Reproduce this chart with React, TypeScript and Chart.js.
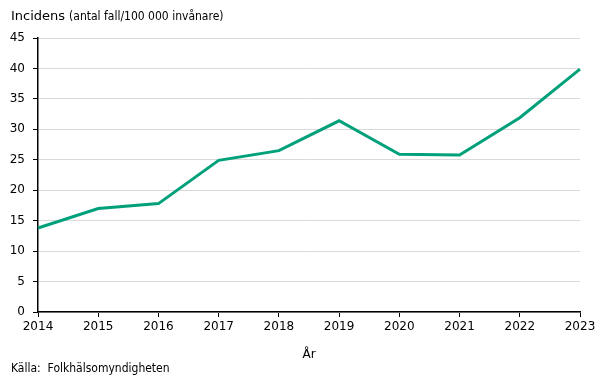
import React, { useEffect, useRef } from "react";
import { Chart, registerables } from "chart.js";

Chart.register(...registerables);

const years = ["2014", "2015", "2016", "2017", "2018", "2019", "2020", "2021", "2022", "2023"];
const incidence = [13.8, 17.0, 17.8, 24.9, 26.5, 31.4, 25.9, 25.8, 31.9, 39.9];
const yTicks = [0, 5, 10, 15, 20, 25, 30, 35, 40, 45];
const titleMain = "Incidens";
const titleSub = "(antal fall/100 000 invånare)";
const xTitle = "År";
const sourceText = "Källa:  Folkhälsomyndigheten";

const FONT = "'DejaVu Sans', Verdana, sans-serif";
const FONT_C = "'DejaVu Sans Condensed', 'DejaVu Sans', sans-serif";

const textPlugin = {
  id: "textPlugin",
  afterDraw(chart: any) {
    const ctx = chart.ctx;
    ctx.save();
    ctx.fillStyle = "#000";
    ctx.textBaseline = "alphabetic";
    ctx.textAlign = "left";
    ctx.font = `13px ${FONT}`;
    ctx.fillText(titleMain, 11, 20);
    const w = ctx.measureText(titleMain).width;
    ctx.font = `12px ${FONT_C}`;
    ctx.fillText(titleSub, 11 + w + 4, 20);
    ctx.font = `12px ${FONT_C}`;
    ctx.fillText(sourceText, 11, 372);
    ctx.restore();
  },
};

export default function App() {
  const ref = useRef<HTMLCanvasElement | null>(null);
  useEffect(() => {
    if (!ref.current) return;
    const chart = new Chart(ref.current, {
      type: "line",
      data: {
        labels: years,
        datasets: [
          {
            data: incidence,
            borderColor: "rgb(0,161,122)",
            borderWidth: 3,
            pointRadius: 0,
            tension: 0,
            fill: false,
          },
        ],
      },
      options: {
        animation: false,
        responsive: false,
        devicePixelRatio: 1,
        layout: { padding: { left: 0, right: 25, top: 38, bottom: 0 } },
        plugins: { legend: { display: false }, tooltip: { enabled: false }, title: { display: false } },
        scales: {
          x: {
            type: "category",
            offset: false,
            grid: { drawOnChartArea: false, drawTicks: true, tickLength: 5, color: "#000", tickColor: "#000" },
            border: { color: "#000", width: 1.5 },
            ticks: { color: "#000", font: { family: FONT, size: 12 }, padding: 3, maxRotation: 0, autoSkip: false },
            title: { display: true, text: xTitle, color: "#000", font: { family: FONT, size: 12 }, padding: { top: 0, bottom: 16 } },
            afterFit(scale: any) {
              scale.height = 66;
            },
          },
          y: {
            min: 0,
            max: 45,
            afterBuildTicks(scale: any) {
              scale.ticks = yTicks.map((v) => ({ value: v }));
            },
            grid: { color: "#d9d9d9", lineWidth: 1, drawTicks: true, tickLength: 5, tickColor: "#000" },
            border: { color: "#000", width: 1.5 },
            ticks: { color: "#000", font: { family: FONT, size: 12 }, padding: 8 },
            afterFit(scale: any) {
              scale.width = 38;
            },
          },
        },
      },
      plugins: [textPlugin],
    });
    return () => chart.destroy();
  }, []);
  return (
    <div style={{ position: "absolute", left: 0, top: 0, width: 605, height: 378, background: "#fff" }}>
      <canvas ref={ref} width={605} height={378} style={{ width: 605, height: 378 }} />
    </div>
  );
}
